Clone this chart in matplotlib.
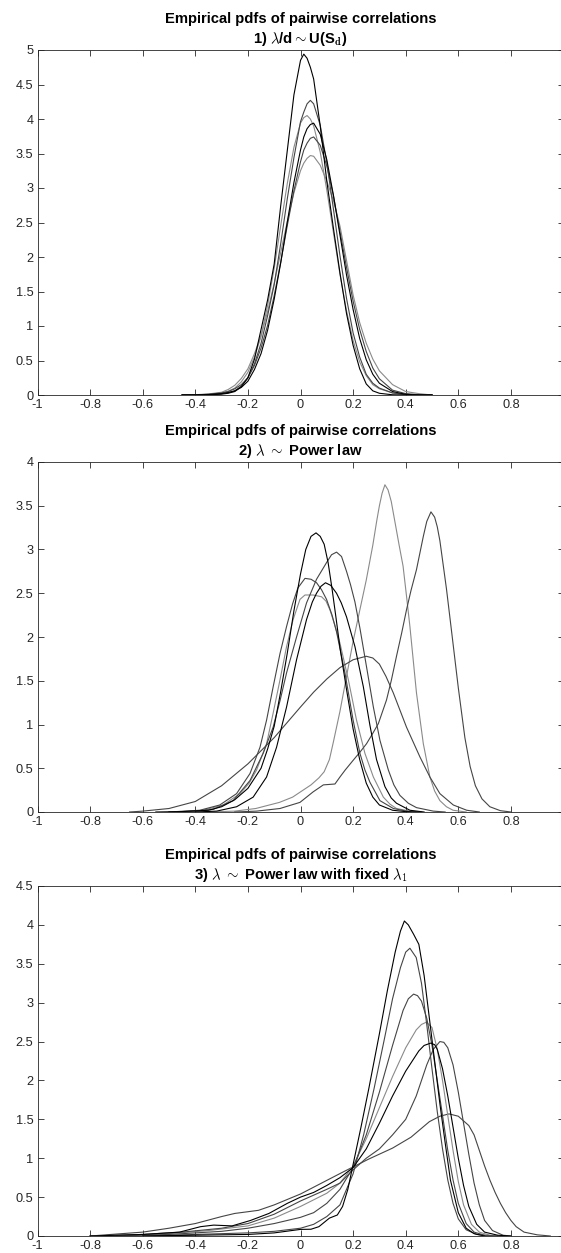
import matplotlib
matplotlib.use("Agg")
import matplotlib.pyplot as plt

plt.rcParams['font.family'] = ['Liberation Sans', 'DejaVu Sans']
plt.rcParams['mathtext.fontset'] = 'cm'
plt.rcParams['axes.unicode_minus'] = False

# ---------------- panel 1: lambda/d ~ U(S_d) ----------------
p1_x = [-0.45, -0.4, -0.35, -0.3, -0.275, -0.25, -0.225, -0.2, -0.175, -0.15, -0.125,
        -0.1, -0.075, -0.05, -0.025, 0, 0.0125, 0.025, 0.0375, 0.05, 0.075, 0.1, 0.125,
        0.15, 0.175, 0.2, 0.225, 0.25, 0.275, 0.3, 0.35, 0.4, 0.45, 0.5]
p1_c1 = [0, 0, 0.003, 0.012, 0.025, 0.05, 0.12, 0.25, 0.52, 0.95, 1.38,
         1.9, 2.75, 3.55, 4.35, 4.85, 4.94, 4.88, 4.75, 4.58, 3.9, 3.1, 2.42,
         1.77, 1.18, 0.72, 0.38, 0.16, 0.06, 0.025, 0.003, 0, 0, 0]
p1_c2 = [0, 0.002, 0.008, 0.02, 0.035, 0.06, 0.13, 0.25, 0.45, 0.75, 1.15,
         1.6, 2.2, 2.85, 3.44, 3.96, 4.1, 4.22, 4.27, 4.22, 3.91, 3.37, 2.7,
         2.02, 1.4, 0.9, 0.55, 0.3, 0.17, 0.1, 0.03, 0.005, 0, 0]
p1_c3 = [0, 0.003, 0.01, 0.03, 0.055, 0.1, 0.19, 0.33, 0.55, 0.85, 1.3,
         1.84, 2.46, 3.07, 3.59, 3.94, 4.02, 4.05, 4.0, 3.9, 3.52, 2.97, 2.36,
         1.75, 1.22, 0.79, 0.48, 0.28, 0.15, 0.09, 0.03, 0.01, 0, 0]
p1_c4 = [0, 0.001, 0.006, 0.02, 0.035, 0.06, 0.11, 0.2, 0.37, 0.6, 0.94,
         1.39, 1.92, 2.51, 3.08, 3.55, 3.74, 3.86, 3.92, 3.94, 3.78, 3.41, 2.9,
         2.32, 1.74, 1.24, 0.82, 0.51, 0.3, 0.17, 0.05, 0.01, 0, 0]
p1_c5 = [0, 0.002, 0.01, 0.03, 0.05, 0.09, 0.15, 0.25, 0.43, 0.68, 1.01,
         1.44, 1.93, 2.46, 2.96, 3.38, 3.55, 3.65, 3.72, 3.74, 3.62, 3.32, 2.89,
         2.37, 1.85, 1.36, 0.95, 0.63, 0.39, 0.235, 0.07, 0.02, 0.004, 0]
p1_c6 = [0, 0.004, 0.015, 0.04, 0.08, 0.14, 0.24, 0.38, 0.6, 0.86, 1.21,
         1.62, 2.07, 2.52, 2.93, 3.25, 3.36, 3.43, 3.47, 3.46, 3.33, 3.1, 2.82,
         2.45, 1.95, 1.45, 1.05, 0.75, 0.52, 0.35, 0.15, 0.05, 0.02, 0]

# ---------------- panel 2: lambda ~ power law ----------------
p2_a_x = [-0.35, -0.25, -0.17, -0.08, -0.03, 0.01, 0.04, 0.07, 0.09, 0.11, 0.125, 0.15,
          0.175, 0.2, 0.225, 0.25, 0.275, 0.29, 0.3, 0.31, 0.321, 0.333, 0.345, 0.36,
          0.375, 0.39, 0.403, 0.416, 0.441, 0.467, 0.492, 0.51, 0.53, 0.555, 0.58, 0.63]
p2_a_y = [0, 0.01, 0.04, 0.11, 0.17, 0.25, 0.31, 0.39, 0.46, 0.6, 0.8, 1.15,
          1.55, 1.95, 2.3, 2.65, 3.05, 3.33, 3.5, 3.64, 3.74, 3.68, 3.55, 3.3,
          3.05, 2.81, 2.47, 2.12, 1.36, 0.78, 0.4, 0.24, 0.13, 0.06, 0.02, 0]
p2_b_x = [-0.25, -0.167, -0.078, -0.002, 0.048, 0.087, 0.131, 0.15, 0.17, 0.2, 0.225,
          0.251, 0.275, 0.296, 0.327, 0.345, 0.365, 0.385, 0.403, 0.42, 0.441, 0.467,
          0.48, 0.496, 0.51, 0.52, 0.53, 0.555, 0.575, 0.6, 0.625, 0.645, 0.665, 0.69,
          0.72, 0.76, 0.8]
p2_b_y = [0, 0.01, 0.04, 0.11, 0.23, 0.31, 0.32, 0.4, 0.48, 0.59, 0.68,
          0.78, 0.9, 1.01, 1.28, 1.5, 1.78, 2.05, 2.31, 2.53, 2.77, 3.15,
          3.32, 3.43, 3.37, 3.26, 3.1, 2.55, 2.05, 1.42, 0.85, 0.52, 0.3, 0.15,
          0.06, 0.015, 0]
p2_c_x = [-0.55, -0.45, -0.35, -0.3, -0.25, -0.2, -0.15, -0.125, -0.1, -0.075, -0.05,
          -0.025, 0, 0.02, 0.04, 0.059, 0.075, 0.09, 0.105, 0.12, 0.135, 0.15, 0.175,
          0.2, 0.225, 0.25, 0.275, 0.3, 0.35, 0.4, 0.45]
p2_c_y = [0, 0.005, 0.02, 0.06, 0.14, 0.27, 0.5, 0.72, 0.98, 1.38, 1.82,
          2.3, 2.72, 3.0, 3.15, 3.19, 3.15, 3.06, 2.85, 2.55, 2.22, 1.88, 1.4,
          0.95, 0.6, 0.33, 0.17, 0.08, 0.02, 0.004, 0]
p2_d_x = [-0.5, -0.4, -0.332, -0.256, -0.192, -0.142, -0.104, -0.078, -0.053, -0.015,
          0.023, 0.061, 0.099, 0.118, 0.137, 0.156, 0.175, 0.19, 0.207, 0.226, 0.251,
          0.277, 0.302, 0.334, 0.355, 0.378, 0.41, 0.441, 0.505, 0.55]
p2_d_y = [0, 0.01, 0.03, 0.13, 0.36, 0.67, 0.97, 1.27, 1.59, 2.0,
          2.39, 2.66, 2.85, 2.94, 2.97, 2.92, 2.75, 2.6, 2.4, 2.1, 1.66,
          1.2, 0.82, 0.48, 0.31, 0.19, 0.1, 0.05, 0.01, 0]
p2_e_x = [-0.5, -0.383, -0.307, -0.243, -0.192, -0.154, -0.129, -0.104, -0.078, -0.053,
          -0.03, -0.01, 0.017, 0.04, 0.061, 0.08, 0.099, 0.12, 0.137, 0.169, 0.2, 0.226,
          0.245, 0.264, 0.302, 0.353, 0.42]
p2_e_y = [0, 0.02, 0.08, 0.21, 0.44, 0.74, 1.05, 1.43, 1.81, 2.12,
          2.38, 2.56, 2.67, 2.66, 2.62, 2.54, 2.43, 2.25, 2.06, 1.59, 1.05, 0.67,
          0.48, 0.34, 0.13, 0.04, 0]
p2_f_x = [-0.4, -0.319, -0.243, -0.18, -0.129, -0.091, -0.053, -0.015, 0.023, 0.045,
          0.061, 0.078, 0.095, 0.115, 0.137, 0.155, 0.175, 0.207, 0.239, 0.264, 0.289,
          0.321, 0.345, 0.365, 0.416, 0.47]
p2_f_y = [0, 0.01, 0.06, 0.17, 0.4, 0.74, 1.2, 1.74, 2.2, 2.4,
          2.5, 2.58, 2.62, 2.59, 2.5, 2.39, 2.23, 1.89, 1.43, 0.99, 0.6,
          0.29, 0.16, 0.1, 0.02, 0]
p2_g_x = [-0.45, -0.37, -0.294, -0.23, -0.195, -0.167, -0.129, -0.104, -0.078, -0.053,
          -0.028, -0.002, 0.017, 0.048, 0.08, 0.097, 0.112, 0.13, 0.15, 0.182, 0.213,
          0.245, 0.277, 0.315, 0.34, 0.365, 0.416, 0.46]
p2_g_y = [0, 0.02, 0.08, 0.21, 0.33, 0.48, 0.78, 1.13, 1.51, 1.89,
          2.2, 2.43, 2.48, 2.48, 2.46, 2.41, 2.31, 2.14, 1.93, 1.51, 1.05,
          0.67, 0.4, 0.17, 0.09, 0.04, 0.01, 0]
p2_h_x = [-0.65, -0.6, -0.5, -0.4, -0.3, -0.2, -0.1, 0, 0.05, 0.1, 0.15, 0.2, 0.25,
          0.275, 0.3, 0.325, 0.353, 0.403, 0.454, 0.492, 0.53, 0.581, 0.632, 0.68]
p2_h_y = [0, 0.01, 0.04, 0.12, 0.3, 0.55, 0.85, 1.2, 1.37, 1.52, 1.65, 1.74, 1.78,
          1.76, 1.69, 1.55, 1.36, 0.97, 0.63, 0.4, 0.21, 0.08, 0.02, 0]

# ---------------- panel 3: power law with fixed lambda_1 ----------------
p3_a_x = [-0.6, -0.4, -0.2, -0.1, 0, 0.04, 0.07, 0.11, 0.14, 0.16, 0.18, 0.2, 0.23,
          0.26, 0.3, 0.33, 0.36, 0.38, 0.395, 0.41, 0.43, 0.45, 0.47, 0.49, 0.51,
          0.53, 0.55, 0.57, 0.6, 0.63, 0.66, 0.7]
p3_a_y = [0, 0.01, 0.02, 0.04, 0.085, 0.087, 0.12, 0.23, 0.27, 0.38, 0.6, 0.92, 1.4,
          1.9, 2.6, 3.15, 3.65, 3.92, 4.05, 4.0, 3.88, 3.75, 3.35, 2.8, 2.25,
          1.7, 1.2, 0.72, 0.3, 0.1, 0.03, 0]
p3_b_x = [-0.6, -0.4, -0.2, -0.1, 0, 0.05, 0.1, 0.15, 0.2, 0.22, 0.24, 0.28, 0.32,
          0.35, 0.38, 0.4, 0.416, 0.44, 0.46, 0.48, 0.5, 0.52, 0.54, 0.56, 0.58,
          0.6, 0.63, 0.67, 0.72]
p3_b_y = [0, 0.02, 0.04, 0.06, 0.1, 0.15, 0.25, 0.4, 0.8, 1.05, 1.3, 1.9, 2.55,
          3.05, 3.45, 3.65, 3.7, 3.58, 3.25, 2.72, 2.15, 1.6, 1.12, 0.72, 0.42,
          0.22, 0.08, 0.02, 0]
p3_c_x = [-0.7, -0.5, -0.3, -0.2, -0.1, 0, 0.05, 0.1, 0.15, 0.2, 0.25, 0.3, 0.35,
          0.39, 0.41, 0.43, 0.445, 0.46, 0.48, 0.5, 0.52, 0.54, 0.56, 0.58, 0.6,
          0.63, 0.66, 0.7, 0.75]
p3_c_y = [0, 0.02, 0.06, 0.1, 0.16, 0.24, 0.3, 0.42, 0.6, 0.88, 1.3, 1.85, 2.45,
          2.9, 3.05, 3.11, 3.09, 3.02, 2.8, 2.45, 2.0, 1.55, 1.1, 0.72, 0.42,
          0.16, 0.05, 0.01, 0]
p3_d_x = [-0.7, -0.5, -0.35, -0.2, -0.1, 0, 0.1, 0.15, 0.2, 0.25, 0.3, 0.35, 0.4,
          0.44, 0.46, 0.479, 0.5, 0.52, 0.54, 0.56, 0.58, 0.6, 0.62, 0.65, 0.68,
          0.72, 0.76]
p3_d_y = [0, 0.03, 0.07, 0.13, 0.23, 0.38, 0.55, 0.68, 0.9, 1.25, 1.65, 2.05, 2.42,
          2.65, 2.72, 2.75, 2.68, 2.4, 2.0, 1.55, 1.1, 0.7, 0.4, 0.15, 0.05,
          0.01, 0]
p3_e_x = [-0.8, -0.6, -0.46, -0.38, -0.33, -0.26, -0.19, -0.12, -0.05, 0, 0.05, 0.1,
          0.15, 0.2, 0.25, 0.3, 0.35, 0.4, 0.45, 0.47, 0.495, 0.51, 0.52, 0.54, 0.56,
          0.58, 0.6, 0.62, 0.64, 0.67, 0.7, 0.75, 0.8]
p3_e_y = [0, 0.02, 0.05, 0.12, 0.14, 0.13, 0.2, 0.29, 0.42, 0.5, 0.56, 0.65,
          0.75, 0.88, 1.12, 1.45, 1.8, 2.12, 2.38, 2.45, 2.48, 2.46, 2.4, 2.15, 1.8,
          1.4, 1.0, 0.65, 0.38, 0.15, 0.05, 0.01, 0]
p3_f_x = [-0.8, -0.6, -0.45, -0.3, -0.2, -0.1, 0, 0.1, 0.15, 0.2, 0.25, 0.3, 0.35,
          0.4, 0.44, 0.48, 0.505, 0.53, 0.545, 0.56, 0.58, 0.6, 0.62, 0.64, 0.66,
          0.68, 0.7, 0.73, 0.77, 0.8]
p3_f_y = [0, 0.02, 0.05, 0.1, 0.16, 0.28, 0.45, 0.6, 0.68, 0.85, 1.0, 1.12, 1.3,
          1.5, 1.8, 2.2, 2.4, 2.5, 2.49, 2.42, 2.2, 1.85, 1.45, 1.05, 0.68,
          0.4, 0.2, 0.07, 0.01, 0]
p3_g_x = [-0.8, -0.6, -0.5, -0.4, -0.3, -0.25, -0.16, -0.1, -0.05, 0, 0.08, 0.16,
          0.26, 0.35, 0.42, 0.49, 0.53, 0.565, 0.6, 0.64, 0.66, 0.68, 0.7, 0.72,
          0.74, 0.76, 0.78, 0.8, 0.82, 0.85, 0.9, 0.95]
p3_g_y = [0, 0.05, 0.1, 0.16, 0.25, 0.29, 0.33, 0.4, 0.47, 0.54, 0.68, 0.82,
          0.99, 1.13, 1.27, 1.47, 1.54, 1.57, 1.54, 1.42, 1.3, 1.1, 0.9, 0.72,
          0.56, 0.42, 0.3, 0.2, 0.12, 0.05, 0.015, 0]

BLACK = '#000000'
DARK = '#454545'
LIGHT = '#8a8a8a'
AXIS = '#262626'

W, H = 561, 1253
fig = plt.figure(figsize=(W / 100, H / 100), dpi=100)


def panel(top, bottom, ymax, title):
    ax = fig.add_axes([37.5 / W, 1 - bottom / H, 526 / W, (bottom - top) / H])
    ax.set_xlim(-1, 1)
    ax.set_ylim(0, ymax)
    xt = [-1, -0.8, -0.6, -0.4, -0.2, 0, 0.2, 0.4, 0.6, 0.8, 1]
    # the "1" label sits past the right edge of the picture
    ax.set_xticks(xt, ['%g' % v for v in xt[:-1]] + [''])
    yt = [i * 0.5 for i in range(int(ymax / 0.5) + 1)]
    ax.set_yticks(yt, ['%g' % v for v in yt])
    ax.tick_params(direction='in', top=True, right=True, length=4, width=0.6,
                   color=AXIS, labelcolor=AXIS, labelsize=9.2, pad=3)
    for s in ax.spines.values():
        s.set_color(AXIS)
        s.set_linewidth(0.6)
    ax.set_title(title, fontsize=10.6, fontweight='bold', pad=5, linespacing=1.3)
    return ax


lw = 0.8
t = 'Empirical pdfs of pairwise correlations\n'

ax1 = panel(50, 395, 5, t + r'1) $\lambda$/d$\sim$U(S$_{\mathbf{d}}$)')
ax1.plot(p1_x, p1_c6, color=LIGHT, lw=lw)
ax1.plot(p1_x, p1_c3, color=LIGHT, lw=lw)
ax1.plot(p1_x, p1_c5, color=DARK, lw=lw)
ax1.plot(p1_x, p1_c2, color=DARK, lw=lw)
ax1.plot(p1_x, p1_c4, color=BLACK, lw=lw)
ax1.plot(p1_x, p1_c1, color=BLACK, lw=lw)

ax2 = panel(462, 812, 4, t + r'2) $\lambda$ $\sim$ Power law')
ax2.plot(p2_a_x, p2_a_y, color=LIGHT, lw=lw)
ax2.plot(p2_g_x, p2_g_y, color=LIGHT, lw=lw)
ax2.plot(p2_h_x, p2_h_y, color=DARK, lw=lw)
ax2.plot(p2_b_x, p2_b_y, color=DARK, lw=lw)
ax2.plot(p2_d_x, p2_d_y, color=DARK, lw=lw)
ax2.plot(p2_e_x, p2_e_y, color=DARK, lw=lw)
ax2.plot(p2_f_x, p2_f_y, color=BLACK, lw=lw)
ax2.plot(p2_c_x, p2_c_y, color=BLACK, lw=lw)

ax3 = panel(886, 1236, 4.5, t + r'3) $\lambda$ $\sim$ Power law with fixed $\lambda_{\mathbf{1}}$')
ax3.plot(p3_g_x, p3_g_y, color=DARK, lw=lw)
ax3.plot(p3_d_x, p3_d_y, color=LIGHT, lw=lw)
ax3.plot(p3_f_x, p3_f_y, color=DARK, lw=lw)
ax3.plot(p3_c_x, p3_c_y, color=DARK, lw=lw)
ax3.plot(p3_b_x, p3_b_y, color=DARK, lw=lw)
ax3.plot(p3_e_x, p3_e_y, color=BLACK, lw=lw)
ax3.plot(p3_a_x, p3_a_y, color=BLACK, lw=lw)

fig.savefig('out.png', dpi=100)
